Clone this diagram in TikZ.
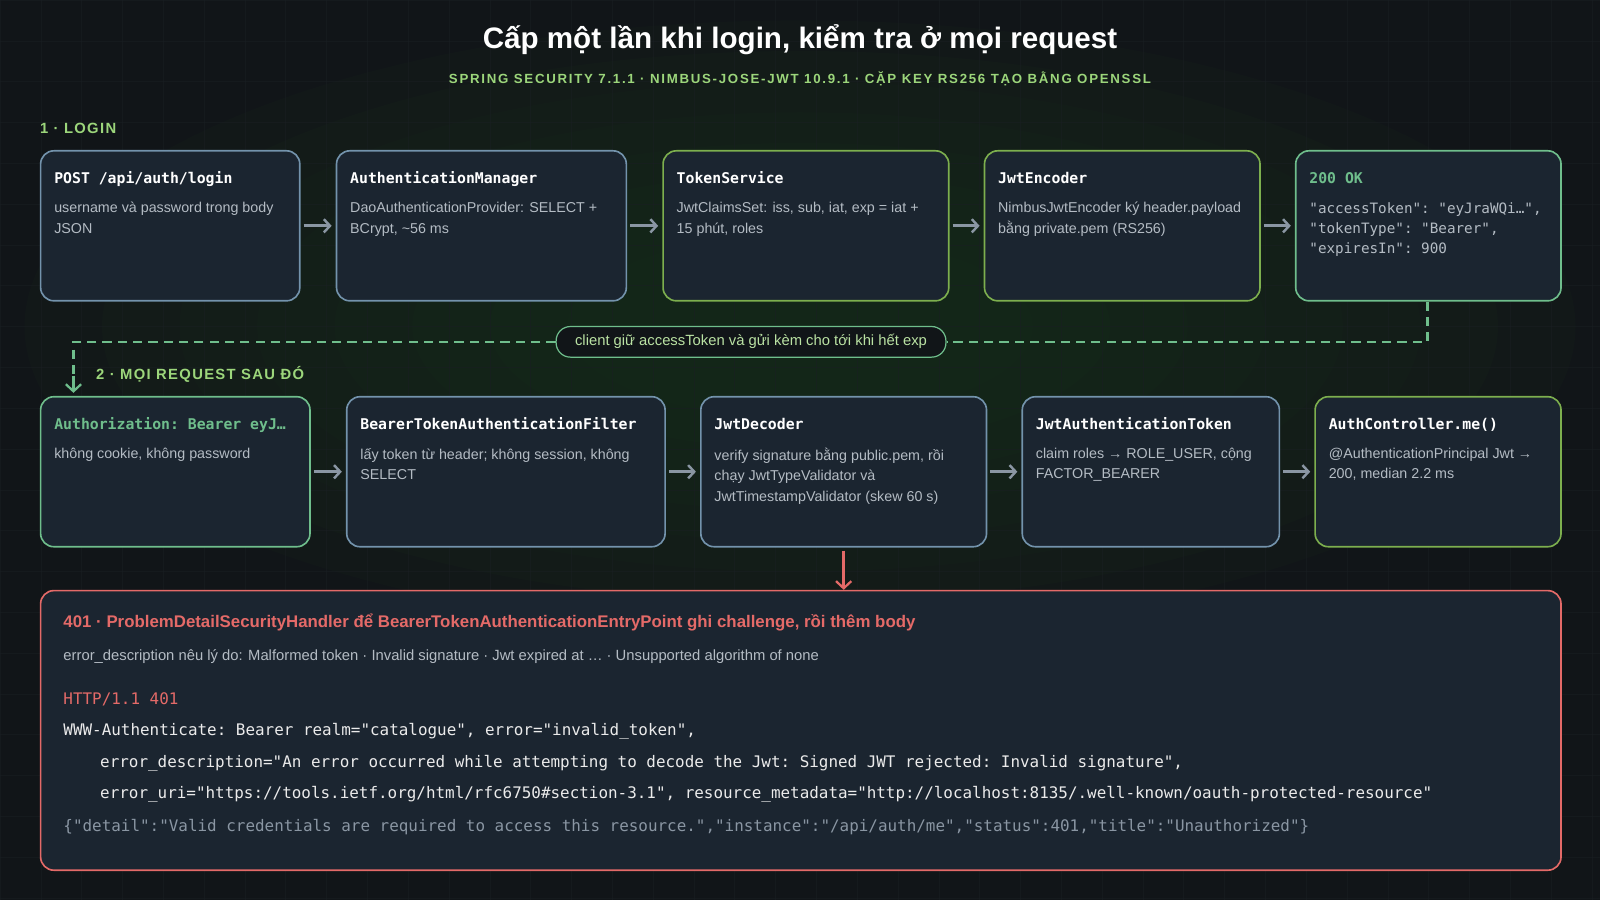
\documentclass[tikz,border=0pt]{standalone}
\usepackage{fontspec}
\setmainfont{Liberation Sans}
\setmonofont{DejaVu Sans Mono}
\usetikzlibrary{arrows.meta}
\definecolor{bg}{HTML}{111518}
\definecolor{boxfill}{HTML}{1B2530}
\definecolor{cblue}{HTML}{7393AC}
\definecolor{cgreen}{HTML}{7DAF4E}
\definecolor{cteal}{HTML}{6FBE8C}
\definecolor{cred}{HTML}{E46A68}
\definecolor{lgreen}{HTML}{9CD67B}
\definecolor{body}{HTML}{B4BCC4}
\definecolor{arrc}{HTML}{8A96A3}
\definecolor{gridc}{HTML}{1A1F23}
\definecolor{glow}{HTML}{1E3A1E}
\newcommand\fs[2]{\fontsize{#1}{#2}\selectfont}
\tikzset{
  box/.style={draw=#1, line width=1.6pt, fill=boxfill, rounded corners=13pt, anchor=north west, inner sep=0pt},
  ttl/.style={anchor=base west, font=\ttfamily\bfseries\fs{14.5}{20}, text=white, inner sep=0pt},
  bdy/.style={anchor=north west, align=left, font=\fs{14}{20}, text=body, inner sep=0pt},
  arr/.style={draw=arrc, line width=2.6pt, -{Straight Barb[length=6pt,width=13pt,line width=2.4pt]}, shorten <=3pt, shorten >=4pt},
  sect/.style={anchor=base west, font=\bfseries\fs{14.5}{18}, text=lgreen, inner sep=0pt},
  dashln/.style={draw=cteal, line width=2.4pt, dash pattern=on 9pt off 6pt},
  code/.style={anchor=base west, font=\ttfamily\fs{15.6}{20}, inner sep=0pt},
}
\newcommand\mkbox[8]{%
  \node[box=#6, minimum width=#4pt-#2pt, minimum height=#5pt-#3pt] (#1) at (#2,#3) {};
  \node[ttl] (#1t) at (#2+14,#3+33) {#7};
  \node[bdy] (#1b) at (#2+14,#3+51) {#8};}
\begin{document}
\begin{tikzpicture}[x=1pt,y=-1pt]
\fill[bg] (0,0) rectangle (1568,882);
\useasboundingbox (0,0) rectangle (1568,882);
\foreach \r in {1.0,0.9,...,0.2} \fill[glow, opacity=0.09] (784,320) ellipse ({760*\r} and {300*\r});
\foreach \gx in {0,40,...,1560} \draw[gridc, line width=0.5pt, opacity=0.5] (\gx,0) -- (\gx,882);
\foreach \gy in {0,40,...,880} \draw[gridc, line width=0.5pt, opacity=0.5] (0,\gy) -- (1568,\gy);

\node[anchor=base, font=\bfseries\fs{29}{34}, text=white] (title) at (784,48) {Cấp một lần khi login, kiểm tra ở mọi request};
\node[anchor=base, font=\bfseries\fs{13}{16}, text=lgreen] (sub) at (784,82) {\addfontfeature{LetterSpace=13}SPRING SECURITY 7.1.1 · NIMBUS-JOSE-JWT 10.9.1 · CẶP KEY RS256 TẠO BẰNG OPENSSL};

\node[sect] (s1) at (39,131) {\addfontfeature{LetterSpace=9}1 · LOGIN};
\node[sect] (s2) at (94,372) {\addfontfeature{LetterSpace=9}2 · MỌI REQUEST SAU ĐÓ};

\mkbox{a1}{39}{147}{293}{294}{cblue}{POST /api/auth/login}{username và password trong body\\JSON}
\mkbox{a2}{329}{147}{613}{294}{cblue}{AuthenticationManager}{DaoAuthenticationProvider: SELECT +\\BCrypt, \textasciitilde56 ms}
\mkbox{a3}{649}{147}{929}{294}{cgreen}{TokenService}{JwtClaimsSet: iss, sub, iat, exp = iat +\\15 phút, roles}
\mkbox{a4}{964}{147}{1234}{294}{cgreen}{JwtEncoder}{NimbusJwtEncoder ký header.payload\\bằng private.pem (RS256)}
\mkbox{a5}{1269}{147}{1529}{294}{cteal}{\textcolor{cteal}{200 OK}}{\ttfamily\fs{14}{20}"accessToken": "eyJraWQi…",\\\ttfamily\fs{14}{20}"tokenType": "Bearer",\\\ttfamily\fs{14}{20}"expiresIn": 900}

\mkbox{b1}{39}{388}{303}{535}{cteal}{\textcolor{cteal}{Authorization: Bearer eyJ…}}{không cookie, không password}
\mkbox{b2}{339}{388}{651}{535}{cblue}{BearerTokenAuthenticationFilter}{lấy token từ header; không session, không\\SELECT}
\mkbox{b3}{686}{388}{966}{535}{cblue}{JwtDecoder}{verify signature bằng public.pem, rồi\\chạy JwtTypeValidator và\\JwtTimestampValidator (skew 60 s)}
\mkbox{b4}{1001}{388}{1253}{535}{cblue}{JwtAuthenticationToken}{claim roles → ROLE\_USER, cộng\\FACTOR\_BEARER}
\mkbox{b5}{1288}{388}{1529}{535}{cgreen}{AuthController.me()}{@AuthenticationPrincipal Jwt →\\200, median 2.2 ms}

\foreach \p/\q in {a1/a2,a2/a3,a3/a4,a4/a5,b1/b2,b2/b3,b3/b4,b4/b5}
  \draw[arr] (\p.east) -- (\q.west);

\node[draw=cteal, line width=1.2pt, fill=bg, rounded corners=14pt, minimum width=382pt, minimum height=30pt, inner sep=0pt, font=\fs{14.5}{18}, text=lgreen!70!white] (pill) at (736,335) {client giữ accessToken và gửi kèm cho tới khi hết exp};
\coordinate (d1) at (1399,335);
\coordinate (d2) at (72,335);
\coordinate (d3) at (72,385);
\draw[dashln] (a5.south -| d1) -- (d1) -- (pill.east);
\draw[dashln] (pill.west) -- (d2) -- ++(0,34);
\draw[cteal, line width=2.4pt, -{Straight Barb[length=7pt,width=15pt,line width=2.2pt]}] (72,368) -- (d3);

\node[box=cred, minimum width=1490pt, minimum height=274pt] (err) at (39,578) {};
\draw[cred, line width=2.4pt, -{Straight Barb[length=7pt,width=15pt,line width=2.2pt]}] (b3.south) ++(0,3) -- (err.north -| b3.south);

\node[anchor=base west, inner sep=0pt, font=\bfseries\fs{16.5}{20}, text=cred] (e1) at (62,615) {401 · ProblemDetailSecurityHandler để BearerTokenAuthenticationEntryPoint ghi challenge, rồi thêm body};
\node[anchor=base west, inner sep=0pt, font=\fs{14.5}{20}, text=body] (e2) at (62,647) {error\_description nêu lý do: Malformed token · Invalid signature · Jwt expired at … · Unsupported algorithm of none};
\node[code, text=cred] (c1) at (62,690) {HTTP/1.1 401};
\node[code, text=white!92!black] (c2) at (62,721) {WWW-Authenticate: Bearer realm="catalogue", error="invalid\_token",};
\node[code, text=white!92!black] (c3) at (98,752) {error\_description="An error occurred while attempting to decode the Jwt: Signed JWT rejected: Invalid signature",};
\node[code, text=white!92!black] (c4) at (98,783) {error\_uri="https://tools.ietf.org/html/rfc6750\#section-3.1", resource\_metadata="http://localhost:8135/.well-known/oauth-protected-resource"};
\node[code, text=arrc] (c5) at (62,815) {\{"detail":"Valid credentials are required to access this resource.","instance":"/api/auth/me","status":401,"title":"Unauthorized"\}};
\end{tikzpicture}
\end{document}
